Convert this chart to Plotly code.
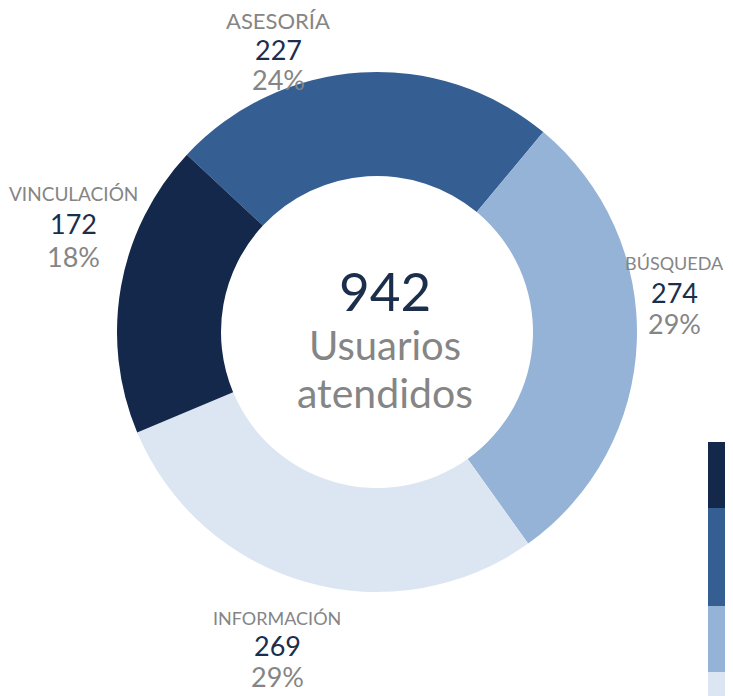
import plotly.graph_objects as go

categories = ["ASESORÍA", "BÚSQUEDA", "INFORMACIÓN", "VINCULACIÓN"]
values = [227, 274, 269, 172]
colors = ["#355F93", "#95B3D7", "#DCE6F2", "#13284A"]
total_label = "942"
center_lines = ["Usuarios", "atendidos"]

NAVY = "#1B2E4B"
GRAY = "#858585"
FONT = "Lato"
W, H = 733, 696
OFF = 8  # page body margin shift


def px(x, y):
    return (x - OFF) / W, 1 - (y - OFF) / H


fig = go.Figure()
x0, y1 = px(117, 72)
x1, y0 = px(637, 592)
fig.add_trace(go.Pie(
    labels=categories, values=values, hole=0.6, sort=False,
    direction="clockwise", rotation=-47,
    marker=dict(colors=colors, line=dict(width=0)),
    textinfo="none", hoverinfo="label+value+percent", showlegend=False,
    domain=dict(x=[x0, x1], y=[y0, y1]),
))

total = sum(values)
# label anchors (pixels, top-left origin): center x, name y, value y, pct y, name size
label_pos = {
    "ASESORÍA": (278, 21, 49, 80, 22),
    "BÚSQUEDA": (674, 263, 292, 323, 18),
    "INFORMACIÓN": (277, 618, 645, 676, 18),
    "VINCULACIÓN": (73, 194, 224, 256, 19),
}

anns = []
for cat, val in zip(categories, values):
    cx, yn, yv, yp, fs = label_pos[cat]
    pct = f"{round(val / total * 100)}%"
    for txt, yy, size, col in [(cat, yn, fs, GRAY), (str(val), yv, 27, NAVY), (pct, yp, 27, GRAY)]:
        x, y = px(cx, yy)
        anns.append(dict(x=x, y=y, xref="paper", yref="paper", text=txt, showarrow=False,
                         xanchor="center", yanchor="middle",
                         font=dict(family=FONT, size=size, color=col)))

for txt, yy, size, col in [(total_label, 290, 53, NAVY), (center_lines[0], 345, 40, GRAY), (center_lines[1], 392, 41, GRAY)]:
    x, y = px(385, yy)
    anns.append(dict(x=x, y=y, xref="paper", yref="paper", text=txt, showarrow=False,
                     xanchor="center", yanchor="middle",
                     font=dict(family=FONT, size=size, color=col)))

# partial legend swatches on the right edge
legend_colors = ["#13284A", "#355F93", "#95B3D7", "#DCE6F2"]
legend_edges = [442, 508, 606, 672, 710]
shapes = []
for i, c in enumerate(legend_colors):
    lx0, ly1 = px(708, legend_edges[i])
    _, ly0 = px(708, legend_edges[i + 1])
    shapes.append(dict(type="rect", xref="paper", yref="paper",
                       x0=lx0, x1=1.0, y0=ly0, y1=ly1,
                       fillcolor=c, line=dict(width=0)))

fig.update_layout(width=W, height=H, margin=dict(l=0, r=0, t=0, b=0),
                  paper_bgcolor="white", plot_bgcolor="white",
                  annotations=anns, shapes=shapes)
fig.write_html("out.html")
